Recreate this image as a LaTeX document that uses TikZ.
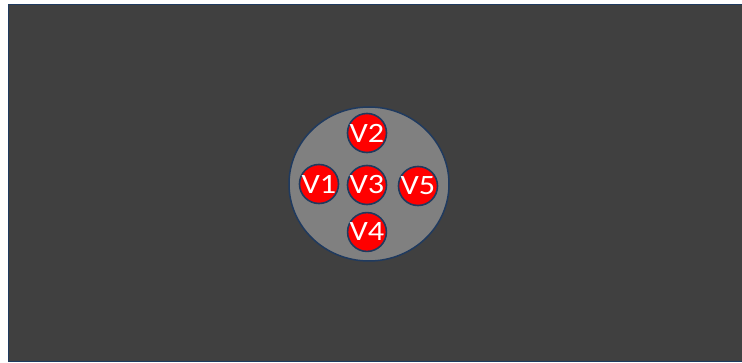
\documentclass[tikz,border=0pt]{standalone}
\usepackage{fontspec}
\setmainfont{Carlito}
\definecolor{navy}{HTML}{1F3A5F}
\definecolor{darkbg}{HTML}{404040}
\definecolor{midgray}{HTML}{808080}
\definecolor{vred}{HTML}{FF0000}
\begin{document}
\begin{tikzpicture}[x=1pt,y=-1pt,
  vnode/.style={circle,draw=navy,line width=1.6pt,fill=vred,minimum size=35pt,inner sep=0pt,
    text=white,font=\fontsize{28}{28}\selectfont},
  plate/.style={ellipse,draw=navy,line width=1.5pt,fill=midgray}]
\useasboundingbox (0,0) rectangle (742,363);
\fill[white] (0,0) rectangle (742,363);
\draw[navy,line width=1.5pt,fill=darkbg] (8.5,4.5) rectangle (750,361.5);
\draw[navy,line width=1.5pt,fill=midgray] (369,184) ellipse [x radius=80, y radius=77];
\node[vnode] (v2) at (367,133) {\scalebox{1.15}[1]{V2}};
\node[vnode] (v1) at (319,184) {\scalebox{1.15}[1]{V1}};
\node[vnode] (v3) at (367,185) {\scalebox{1.15}[1]{V3}};
\node[vnode] (v5) at (418,186) {\scalebox{1.15}[1]{V5}};
\node[vnode] (v4) at (367,232) {\scalebox{1.15}[1]{V4}};
\end{tikzpicture}
\end{document}
